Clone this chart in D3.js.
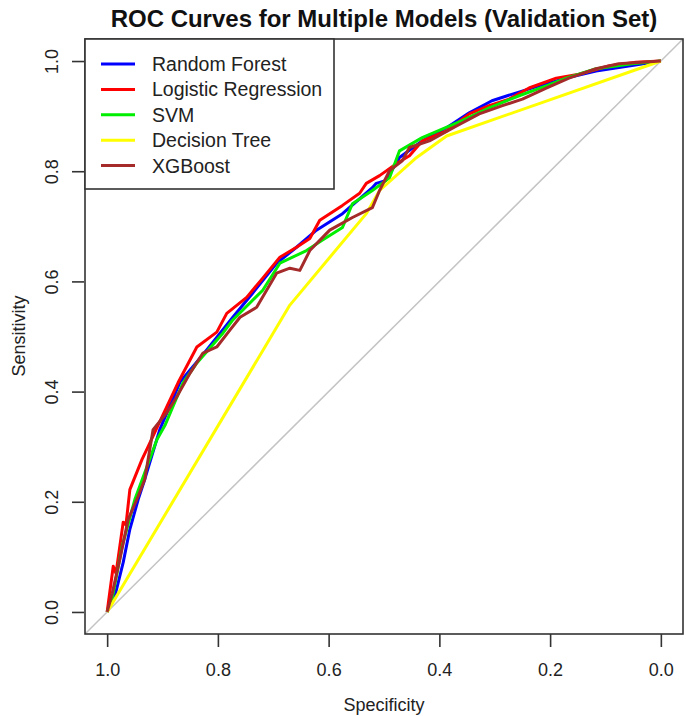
<!DOCTYPE html>
<html>
<head>
<meta charset="utf-8">
<script src="https://cdn.jsdelivr.net/npm/d3@7"></script>
<style>
  body { margin: 0; background: #fff; }
  svg { font-family: "Liberation Sans", Arial, sans-serif; }
</style>
</head>
<body>
<svg width="686" height="716"></svg>
<script>
// ROC points: [specificity, sensitivity]
const rfPoints = [[1,0],[0.991,0.020],[0.986,0.029],[0.971,0.090],[0.959,0.150],[0.944,0.204],[0.932,0.241],
  [0.905,0.331],[0.868,0.418],[0.827,0.467],[0.773,0.535],[0.737,0.579],[0.694,0.633],[0.658,0.662],
  [0.622,0.693],[0.575,0.723],[0.521,0.770],[0.514,0.778],[0.497,0.783],[0.472,0.825],[0.431,0.855],
  [0.387,0.879],[0.346,0.906],[0.305,0.928],[0.268,0.940],[0.220,0.955],[0.171,0.969],[0.117,0.982],
  [0.058,0.991],[0,1]]
const lrPoints = [[1,0],[0.989,0.083],[0.984,0.070],[0.971,0.163],[0.966,0.158],[0.959,0.222],[0.937,0.277],
  [0.926,0.300],[0.899,0.358],[0.872,0.416],[0.838,0.481],[0.802,0.508],[0.784,0.542],[0.748,0.571],
  [0.719,0.606],[0.688,0.644],[0.658,0.662],[0.634,0.678],[0.616,0.711],[0.575,0.738],[0.544,0.760],
  [0.532,0.778],[0.508,0.792],[0.477,0.814],[0.454,0.828],[0.431,0.855],[0.387,0.873],[0.346,0.904],
  [0.310,0.919],[0.274,0.931],[0.238,0.951],[0.189,0.969],[0.148,0.976],[0.094,0.991],[0.045,0.998],[0,1]]
const svmPoints = [[1,0],[0.991,0.024],[0.973,0.119],[0.950,0.204],[0.928,0.264],[0.910,0.313],[0.895,0.340],
  [0.863,0.416],[0.838,0.452],[0.791,0.506],[0.773,0.530],[0.719,0.584],[0.688,0.633],[0.640,0.656],
  [0.611,0.675],[0.575,0.698],[0.557,0.741],[0.521,0.765],[0.490,0.788],[0.472,0.837],[0.431,0.861],
  [0.359,0.892],[0.310,0.915],[0.256,0.937],[0.207,0.955],[0.171,0.969],[0.117,0.986],[0.052,0.995],[0,1]]
const dtPoints = [[1,0],[0.670,0.557],[0.532,0.723],[0.508,0.765],[0.441,0.825],[0.387,0.864],[0,1]]
const xgbPoints = [[1,0],[0.991,0.033],[0.977,0.096],[0.962,0.168],[0.944,0.210],[0.932,0.241],[0.917,0.331],
  [0.892,0.362],[0.874,0.391],[0.850,0.434],[0.827,0.470],[0.802,0.481],[0.778,0.512],[0.760,0.535],
  [0.730,0.553],[0.712,0.584],[0.694,0.615],[0.670,0.624],[0.652,0.620],[0.634,0.656],[0.598,0.693],
  [0.557,0.716],[0.521,0.734],[0.508,0.765],[0.490,0.801],[0.467,0.819],[0.454,0.843],[0.418,0.855],
  [0.369,0.882],[0.328,0.904],[0.286,0.919],[0.250,0.931],[0.207,0.951],[0.166,0.969],[0.117,0.986],
  [0.076,0.995],[0,1]]

const modelNames = ["Random Forest", "Logistic Regression", "SVM", "Decision Tree", "XGBoost"]
const modelColors = ["#0000ff", "#ff0000", "#00ee00", "#ffff00", "#a52a2a"]
const tickValues = [1.0, 0.8, 0.6, 0.4, 0.2, 0.0]

const allCurves = [rfPoints, lrPoints, svmPoints, dtPoints, xgbPoints]

const svg = d3.select("svg")
const plotLeft = 85, plotRight = 683, plotTop = 39, plotBottom = 634

const xScale = d3.scaleLinear().domain([1.04, -0.04]).range([plotLeft, plotRight])
const yScale = d3.scaleLinear().domain([-0.04, 1.04]).range([plotBottom, plotTop])

// diagonal reference line
svg.append("line")
  .attr("x1", xScale(1.04)).attr("y1", yScale(-0.04))
  .attr("x2", xScale(-0.04)).attr("y2", yScale(1.04))
  .attr("stroke", "#c4c4c4").attr("stroke-width", 1.5)

const line = d3.line().x(d => xScale(d[0])).y(d => yScale(d[1]))

allCurves.forEach((pts, i) => {
  svg.append("path").datum(pts)
    .attr("d", line)
    .attr("fill", "none")
    .attr("stroke", modelColors[i])
    .attr("stroke-width", 3)
    .attr("stroke-linejoin", "round")
})

// box
svg.append("rect")
  .attr("x", plotLeft).attr("y", plotTop)
  .attr("width", plotRight - plotLeft).attr("height", plotBottom - plotTop)
  .attr("fill", "none").attr("stroke", "#333").attr("stroke-width", 1.6)

// x axis
const xAxis = d3.axisBottom(xScale).tickValues(tickValues).tickFormat(d3.format(".1f"))
  .tickSize(13).tickPadding(16)
const gx = svg.append("g").attr("transform", "translate(0," + plotBottom + ")").call(xAxis)
gx.select(".domain").remove()
gx.selectAll("line").attr("stroke", "#333").attr("stroke-width", 1.6)
gx.selectAll("text").attr("font-size", 18).attr("fill", "#222")
gx.attr("font-family", null).attr("font-size", null)

// y axis
const yAxis = d3.axisLeft(yScale).tickValues(tickValues).tickFormat(d3.format(".1f")).tickSize(12)
const gy = svg.append("g").attr("transform", "translate(84,0)").call(yAxis)
gy.select(".domain").remove()
gy.attr("font-family", null).attr("font-size", null)
gy.selectAll("line").attr("stroke", "#333").attr("stroke-width", 1.6)
gy.selectAll("text")
  .attr("font-size", 18).attr("fill", "#222")
  .attr("transform", "rotate(-90)")
  .attr("x", 0).attr("y", -26).attr("dy", 0)
  .attr("text-anchor", "middle")

// title and axis labels
svg.append("text").attr("x", 384).attr("y", 27)
  .attr("text-anchor", "middle").attr("font-size", 24).attr("font-weight", "bold")
  .attr("fill", "#111").text("ROC Curves for Multiple Models (Validation Set)")
svg.append("text").attr("x", 384).attr("y", 711)
  .attr("text-anchor", "middle").attr("font-size", 18).attr("fill", "#222").text("Specificity")
svg.append("text").attr("transform", "translate(25,336) rotate(-90)")
  .attr("text-anchor", "middle").attr("font-size", 18).attr("fill", "#222").text("Sensitivity")

// legend
const legend = svg.append("g")
legend.append("rect").attr("x", plotLeft).attr("y", plotTop).attr("width", 249).attr("height", 150)
  .attr("fill", "#fff").attr("stroke", "#333").attr("stroke-width", 1.6)
modelNames.forEach((name, i) => {
  const yy = 64 + i * 25.4
  legend.append("line").attr("x1", 101).attr("x2", 135).attr("y1", yy).attr("y2", yy)
    .attr("stroke", modelColors[i]).attr("stroke-width", 3)
  legend.append("text").attr("x", 152).attr("y", yy + 7)
    .attr("font-size", 19.5).attr("fill", "#222").text(name)
})
</script>
</body>
</html>
